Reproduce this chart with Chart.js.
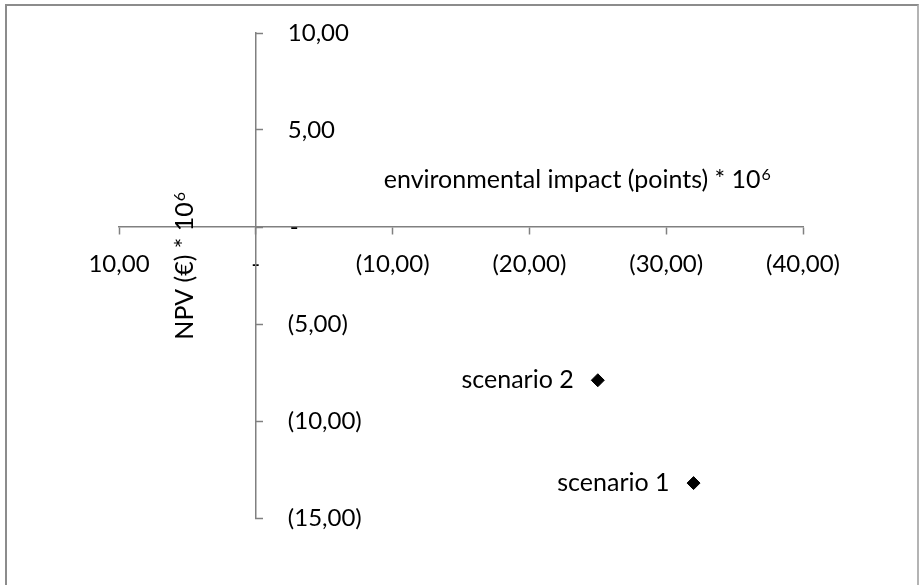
<!DOCTYPE html>
<html>
<head>
<meta charset="utf-8">
<script src="https://cdn.jsdelivr.net/npm/chart.js@4/dist/chart.umd.min.js"></script>
<style>
  html, body { margin: 0; padding: 0; background: #fff; overflow: hidden; }
  #wrap { position: relative; width: 920px; height: 585px; }
  #frame {
    position: absolute; left: 5px; top: 4px; width: 914px; height: 620px;
    border-left: 2px solid #8c8c8c; border-top: 2px solid #8c8c8c; border-right: 2px solid #b4b4b4;
    box-sizing: border-box; pointer-events: none;
  }
</style>
</head>
<body>
<div id="wrap">
  <canvas id="chart" width="920" height="585"></canvas>
  <div id="frame"></div>
</div>
<script>
// values (both axes in units of 10^6)
const scenarios = ["scenario 1", "scenario 2"];
const impact = [-32, -25];   // environmental impact (points)
const npv = [-13.2, -7.9];   // NPV (€)
const xTicks = [10, 0, -10, -20, -30, -40];
const yTicks = [10, 5, 0, -5, -10, -15];
const xTitle = "environmental impact (points) * 10";
const yTitle = "NPV (€) * 10";
const titleExp = "6";

const FONT = "Lato, 'Open Sans', sans-serif";
const SIZE = 24;      // tick labels
const TEXT = 25;      // titles and point labels
const GREY = "#808080";

// excel accounting style: 0 -> "-", negatives in brackets, decimal comma
function acct(v) {
  if (v === 0) return "-";
  const s = Math.abs(v).toFixed(2).replace(".", ",");
  return v < 0 ? "(" + s + ")" : s;
}

function drawWithExp(ctx, text, x, y) {
  ctx.font = TEXT + "px " + FONT;
  const w1 = ctx.measureText(text).width;
  ctx.font = "16px " + FONT;
  const w2 = ctx.measureText(titleExp).width;
  const start = x - (w1 + w2 + 1) / 2;
  ctx.textAlign = "left";
  ctx.textBaseline = "alphabetic";
  ctx.font = TEXT + "px " + FONT;
  ctx.fillText(text, start, y);
  ctx.font = "16px " + FONT;
  ctx.fillText(titleExp, start + w1 + 1, y - 8);
}

const overlay = {
  id: "overlay",
  afterDraw(chart) {
    const ctx = chart.ctx;
    const xs = chart.scales.x, ys = chart.scales.y;
    const x0 = xs.getPixelForValue(0);
    ctx.save();
    ctx.fillStyle = "#000";

    // y tick labels sit on the right of the axis
    ctx.font = SIZE + "px " + FONT;
    ctx.textAlign = "left";
    ctx.textBaseline = "middle";
    yTicks.forEach(v => {
      ctx.fillText(acct(v), x0 + (v === 0 ? 34 : 32), ys.getPixelForValue(v));
    });

    // axis titles
    drawWithExp(ctx, xTitle, xs.getPixelForValue(-23.5), ys.getPixelForValue(2));
    ctx.save();
    ctx.translate(xs.getPixelForValue(4.6), ys.getPixelForValue(-2));
    ctx.rotate(-Math.PI / 2);
    drawWithExp(ctx, yTitle, 0, 0);
    ctx.restore();

    // point labels, left of the markers
    ctx.font = TEXT + "px " + FONT;
    ctx.textAlign = "right";
    ctx.textBaseline = "middle";
    chart.getDatasetMeta(0).data.forEach((pt, i) => {
      ctx.fillText(scenarios[i], pt.x - 24, pt.y);
    });
    ctx.restore();
  }
};

new Chart(document.getElementById("chart"), {
  type: "scatter",
  data: {
    datasets: [{
      label: "scenarios",
      data: impact.map((x, i) => ({ x: x, y: npv[i] })),
      pointStyle: "rectRot",
      pointRadius: 6.5,
      pointBackgroundColor: "#000",
      pointBorderColor: "#000",
      pointBorderWidth: 1
    }]
  },
  options: {
    responsive: false,
    animation: false,
    layout: { padding: { left: 119, right: 117, top: 33, bottom: 67 } },
    plugins: { legend: { display: false }, tooltip: { enabled: false } },
    scales: {
      x: {
        type: "linear",
        reverse: true,
        min: -40,
        max: 10,
        position: { y: 0 },
        afterBuildTicks: s => { s.ticks = xTicks.map(v => ({ value: v })); },
        border: { color: GREY, width: 1.5 },
        grid: { drawOnChartArea: false, tickLength: 7, color: GREY, tickWidth: 1.5 },
        ticks: {
          padding: 16,
          maxRotation: 0,
          color: "#000",
          font: { family: FONT, size: SIZE },
          callback: v => acct(v)
        }
      },
      y: {
        type: "linear",
        min: -15,
        max: 10,
        position: { x: 0 },
        afterBuildTicks: s => { s.ticks = yTicks.map(v => ({ value: v })); },
        border: { color: GREY, width: 1.5 },
        grid: { drawOnChartArea: false, tickLength: -8, color: GREY, tickWidth: 1.5 },
        ticks: { display: false }
      }
    }
  },
  plugins: [overlay]
});
</script>
</body>
</html>
